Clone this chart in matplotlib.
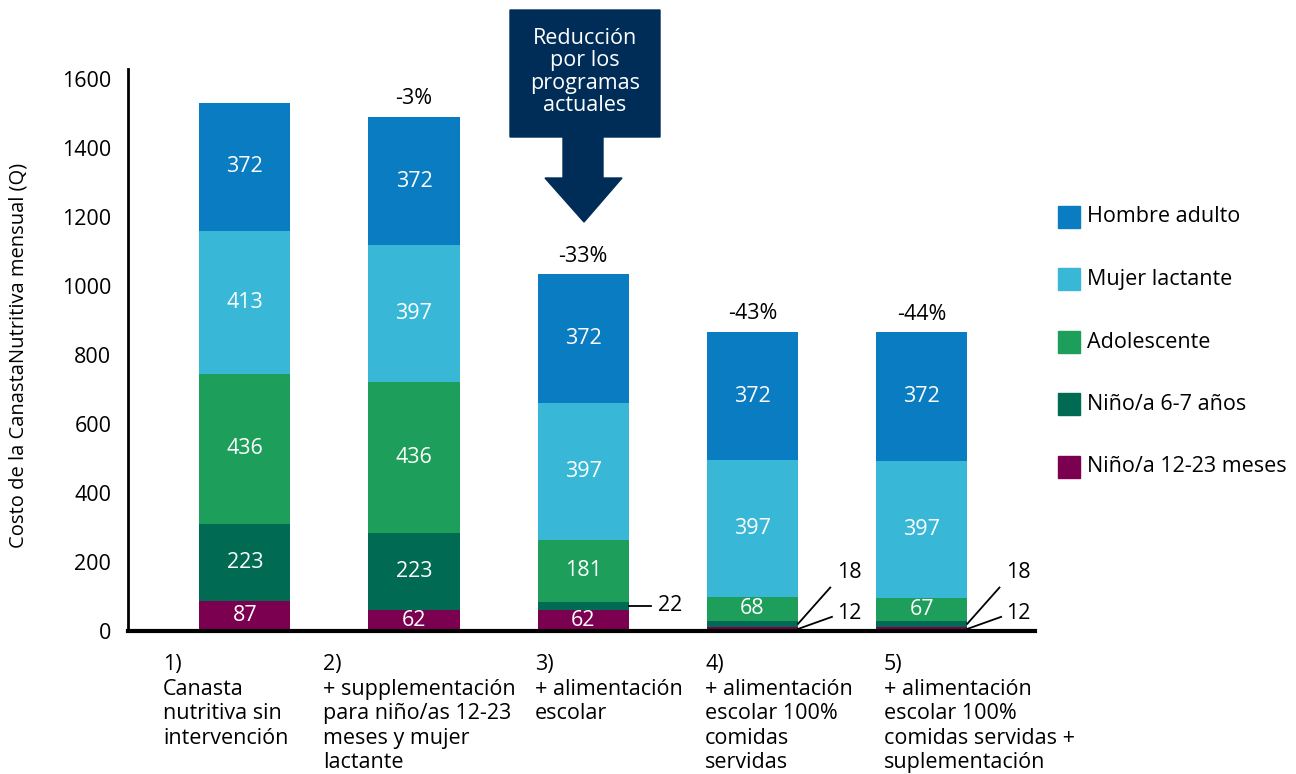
import matplotlib.pyplot as plt
from matplotlib.patches import Polygon, Rectangle

plt.rcParams['font.family'] = ['Open Sans', 'DejaVu Sans']

# data
escenarios = ["1)\nCanasta\nnutritiva sin\nintervención",
              "2)\n+ supplementación\npara niño/as 12-23\nmeses y mujer\nlactante",
              "3)\n+ alimentación\nescolar",
              "4)\n+ alimentación\nescolar 100%\ncomidas\nservidas",
              "5)\n+ alimentación\nescolar 100%\ncomidas servidas +\nsuplementación"]
grupos = ["Niño/a 12-23 meses", "Niño/a 6-7 años", "Adolescente", "Mujer lactante", "Hombre adulto"]
nino_12_23 = [87, 62, 62, 12, 12]
nino_6_7 = [223, 223, 22, 18, 18]
adolescente = [436, 436, 181, 68, 67]
mujer_lactante = [413, 397, 397, 397, 397]
hombre_adulto = [372, 372, 372, 372, 372]
reduccion = ["", "-3%", "-33%", "-43%", "-44%"]

colores = ["#7c0050", "#006a52", "#1d9e5b", "#38b7d6", "#0a7cc2"]
series = [nino_12_23, nino_6_7, adolescente, mujer_lactante, hombre_adulto]
fs = 15.5

fig = plt.figure(figsize=(12.96, 7.74), dpi=100)
ax = fig.add_axes([128 / 1296, 1 - 631 / 774, (1035 - 128) / 1296, (631 - 79) / 774])

x = list(range(len(escenarios)))
ancho = 0.54
base = [0] * len(x)
for vals, col in zip(series, colores):
    ax.bar(x, vals, ancho, bottom=base, color=col, zorder=2)
    for i, v in enumerate(vals):
        if v >= 50:
            ax.text(i, base[i] + v / 2, str(v), ha='center', va='center',
                    color='white', fontsize=fs)
    base = [b + v for b, v in zip(base, vals)]

# percentages above bars
for i, t in enumerate(reduccion):
    if t:
        ax.text(i, base[i] + 22, t, ha='center', va='bottom', fontsize=fs)

# small segment callouts
y22 = nino_12_23[2] + nino_6_7[2] / 2
ax.plot([2 + ancho / 2, 2 + ancho / 2 + 0.13], [y22, y22], color='black', lw=1.3, clip_on=False)
ax.text(2 + ancho / 2 + 0.17, y22, str(nino_6_7[2]), va='center', fontsize=fs)
for i in (3, 4):
    xe = i + ancho / 2
    y18 = nino_12_23[i] + nino_6_7[i] / 2
    y12 = nino_12_23[i] / 2
    ax.plot([xe, xe + 0.19], [y18, y18 + 105], color='black', lw=1.3, clip_on=False)
    ax.plot([xe, xe + 0.2], [y12, y12 + 35], color='black', lw=1.3, clip_on=False)
    ax.text(xe + 0.23, y18 + 150, str(nino_6_7[i]), va='center', fontsize=fs)
    ax.text(xe + 0.23, y12 + 45, str(nino_12_23[i]), va='center', fontsize=fs)

ax.set_xlim(-0.69, 4.67)
ax.set_ylim(0, 1600)
ax.set_yticks(range(0, 1601, 200))
ax.tick_params(axis='y', length=0, labelsize=fs, pad=12)
ax.set_xticks([])
for s in ('top', 'right'):
    ax.spines[s].set_visible(False)
ax.spines['left'].set_linewidth(2)
ax.spines['left'].set_bounds(0, 1630)
ax.spines['bottom'].set_linewidth(3)
ax.set_ylabel("Costo de la CanastaNutritiva mensual (Q)", fontsize=14.5, labelpad=24)

# category labels below axis
etiqueta_x = [163, 323, 535, 705, 884]
for lx, lab in zip(etiqueta_x, escenarios):
    fig.text(lx / 1296, 1 - 654 / 774, lab, ha='left', va='top', fontsize=fs, linespacing=1.22)

# legend
for k, (g, col) in enumerate(zip(grupos[::-1], colores[::-1])):
    yc = 217 + k * 62.5
    fig.patches.append(Rectangle((1058 / 1296, 1 - (yc + 11) / 774), 22 / 1296, 22 / 774,
                                 transform=fig.transFigure, color=col))
    fig.text(1087 / 1296, 1 - yc / 774, g, va='center', fontsize=fs)

# arrow callout
navy = "#002d57"
pts = [(510, 10), (660, 10), (660, 137), (603, 137), (603, 178), (622, 178),
       (584, 222), (545, 178), (563, 178), (563, 137), (510, 137)]
fig.patches.append(Polygon([(px / 1296, 1 - py / 774) for px, py in pts],
                           closed=True, transform=fig.transFigure, color=navy))
fig.text(585 / 1296, 1 - 72 / 774, "Reducción\npor los\nprogramas\nactuales", ha='center',
         va='center', color='white', fontsize=fs, linespacing=1.1)

fig.savefig("out.png", dpi=100)
